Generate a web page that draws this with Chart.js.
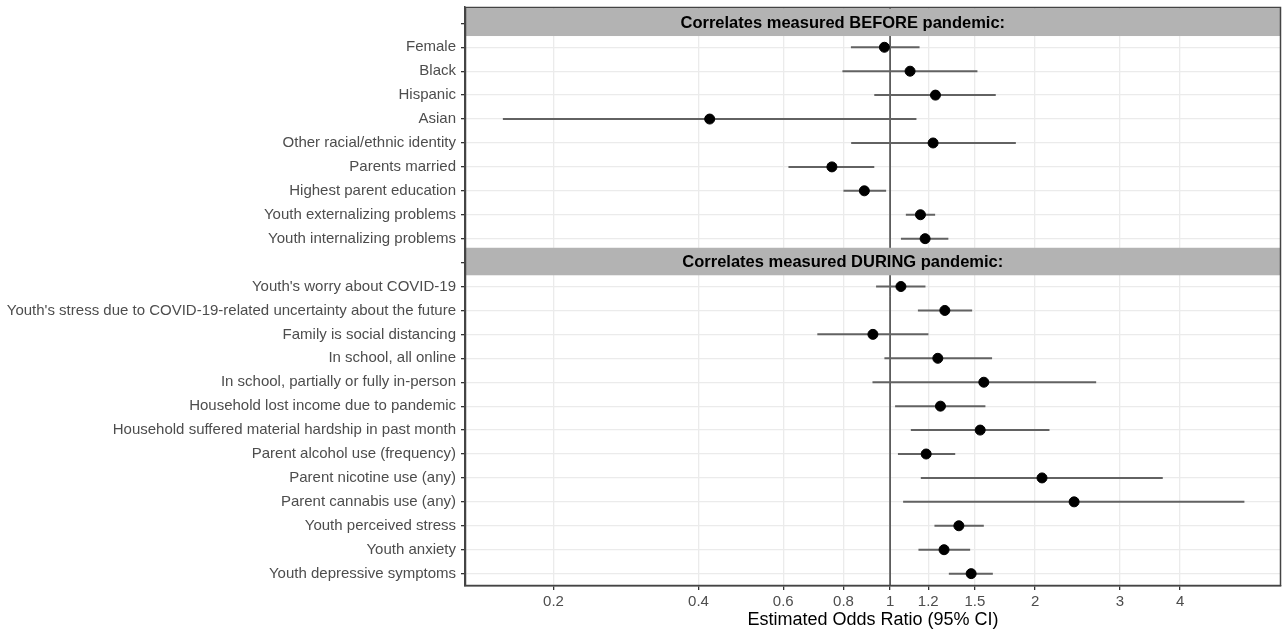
<!DOCTYPE html>
<html>
<head>
<meta charset="utf-8">
<script src="https://cdn.jsdelivr.net/npm/chart.js@4.4.1/dist/chart.umd.min.js"></script>
<style>
  html, body { margin: 0; padding: 0; background: #fff; }
  #wrap { width: 1283px; height: 631px; }
</style>
</head>
<body>
<div id="wrap"><canvas id="myChart" width="1283" height="631"></canvas></div>
<script>
// strip headings
const groupTitles = [
  "Correlates measured BEFORE pandemic:",
  "Correlates measured DURING pandemic:",
];

// correlates measured before the pandemic
const beforeLabels = [
  "Female",
  "Black",
  "Hispanic",
  "Asian",
  "Other racial/ethnic identity",
  "Parents married",
  "Highest parent education",
  "Youth externalizing problems",
  "Youth internalizing problems",
];
const beforeOR = [0.973, 1.100, 1.242, 0.422, 1.228, 0.757, 0.884, 1.156, 1.182];
const beforeLow = [0.829, 0.796, 0.927, 0.157, 0.830, 0.615, 0.800, 1.078, 1.053];
const beforeHigh = [1.151, 1.518, 1.657, 1.134, 1.824, 0.927, 0.981, 1.240, 1.321];

// correlates measured during the pandemic
const duringLabels = [
  "Youth's worry about COVID-19",
  "Youth's stress due to COVID-19-related uncertainty about the future",
  "Family is social distancing",
  "In school, all online",
  "In school, partially or fully in-person",
  "Household lost income due to pandemic",
  "Household suffered material hardship in past month",
  "Parent alcohol use (frequency)",
  "Parent nicotine use (any)",
  "Parent cannabis use (any)",
  "Youth perceived stress",
  "Youth anxiety",
  "Youth depressive symptoms",
];
const duringOR = [1.053, 1.299, 0.921, 1.256, 1.565, 1.272, 1.538, 1.188, 2.067, 2.410, 1.389, 1.294, 1.473];
const duringLow = [0.935, 1.142, 0.706, 0.973, 0.919, 1.024, 1.104, 1.038, 1.158, 1.064, 1.236, 1.145, 1.324];
const duringHigh = [1.184, 1.480, 1.201, 1.628, 2.678, 1.577, 2.142, 1.365, 3.682, 5.440, 1.565, 1.466, 1.634];

const xTicks = [0.2, 0.4, 0.6, 0.8, 1, 1.2, 1.5, 2, 3, 4];

// one row per line, a blank row on top of each group for its strip
const rowLabels = [""].concat(beforeLabels, [""], duringLabels);
const stripRows = [0, beforeLabels.length + 1];
const orAll = [null].concat(beforeOR, [null], duringOR);
const lowAll = [null].concat(beforeLow, [null], duringLow);
const highAll = [null].concat(beforeHigh, [null], duringHigh);

const FONT = "'Liberation Sans', Arial, sans-serif";

const datasets = [];
// points
datasets.push({
  type: "scatter",
  data: orAll.map((v, i) => (v == null ? null : { x: v, y: i })).filter(Boolean),
  backgroundColor: "#000",
  borderColor: "#000",
  pointRadius: 5,
  pointHoverRadius: 5,
  order: 0,
});
// confidence intervals
rowLabels.forEach((lab, i) => {
  if (lowAll[i] == null) return;
  datasets.push({
    type: "scatter",
    showLine: true,
    data: [{ x: lowAll[i], y: i }, { x: highAll[i], y: i }],
    borderColor: "#626262",
    borderWidth: 2,
    pointRadius: 0,
    order: 1,
  });
});
// reference line at OR = 1
datasets.push({
  type: "scatter",
  showLine: true,
  data: [{ x: 1, y: -1 }, { x: 1, y: rowLabels.length }],
  borderColor: "#555",
  borderWidth: 1,
  pointRadius: 0,
  order: 2,
});

// grey strips with headings + full panel border
const stripPlugin = {
  id: "strips",
  afterDatasetsDraw(chart) {
    const { ctx, chartArea, scales } = chart;
    ctx.save();
    stripRows.forEach((r, k) => {
      const top = Math.max(scales.y.getPixelForValue(r - 0.62), chartArea.top);
      const bot = scales.y.getPixelForValue(r + 0.53);
      ctx.fillStyle = "#b3b3b3";
      ctx.fillRect(chartArea.left, top, chartArea.right - chartArea.left, bot - top);
      ctx.fillStyle = "#000";
      ctx.font = "bold 16.5px " + FONT;
      ctx.textAlign = "center";
      ctx.textBaseline = "middle";
      // heading sits a little left of the panel centre, as in the original
      const cx = chartArea.left + 0.463 * (chartArea.right - chartArea.left);
      ctx.fillText(groupTitles[k], cx, (top + bot) / 2 + 1);
    });
    ctx.strokeStyle = "#444";
    ctx.lineWidth = 1.5;
    ctx.strokeRect(chartArea.left + 0.5, chartArea.top + 0.5,
      chartArea.right - chartArea.left - 1, chartArea.bottom - chartArea.top - 1);
    ctx.restore();
  },
};

new Chart(document.getElementById("myChart"), {
  data: { datasets },
  options: {
    responsive: false,
    animation: false,
    layout: { autoPadding: false, padding: { top: 7, right: 2, left: 0, bottom: 0 } },
    plugins: { legend: { display: false }, tooltip: { enabled: false } },
    scales: {
      x: {
        type: "logarithmic",
        min: 0.131,
        max: 6.48,
        afterBuildTicks: (s) => { s.ticks = xTicks.map((v) => ({ value: v })); },
        afterFit: (s) => {
          s.height = 45;
          s.paddingLeft = 0; s.paddingRight = 0;
        },
        ticks: {
          autoSkip: false,
          maxRotation: 0,
          padding: 3,
          color: "#4d4d4d",
          font: { family: FONT, size: 15 },
          callback: (v) => String(v),
        },
        grid: { color: "#ebebeb", lineWidth: 1.3, tickColor: "#333", tickLength: 4 },
        border: { color: "#444", width: 1.5 },
        title: {
          display: true,
          text: "Estimated Odds Ratio (95% CI)",
          color: "#000",
          font: { family: FONT, size: 18 },
          padding: { top: 0, bottom: 0 },
        },
      },
      y: {
        type: "linear",
        reverse: true,
        min: -0.683,
        max: rowLabels.length - 1 + 0.517,
        afterBuildTicks: (s) => { s.ticks = rowLabels.map((l, i) => ({ value: i })); },
        afterFit: (s) => {
          s.width = 465;
          s.paddingTop = 0; s.paddingBottom = 0;
        },
        ticks: {
          autoSkip: false,
          padding: 5,
          color: "#4d4d4d",
          font: { family: FONT, size: 15 },
          callback: (v) => rowLabels[v],
        },
        grid: { color: "#ebebeb", lineWidth: 1.3, tickColor: "#333", tickLength: 4 },
        border: { color: "#444", width: 1.5 },
      },
    },
  },
  plugins: [stripPlugin],
});
</script>
</body>
</html>
